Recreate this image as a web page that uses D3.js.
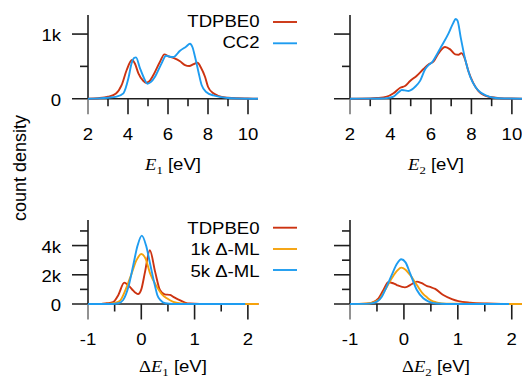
<!DOCTYPE html>
<html><head><meta charset="utf-8">
<script src="https://cdn.jsdelivr.net/npm/d3@7"></script>
<style>body{margin:0;background:#fff}</style>
</head><body><svg id="c" width="522" height="377"></svg>
<script>
// ---------- data ----------
const seriesNamesTop = ["TDPBE0", "CC2"];
const seriesNamesBottom = ["TDPBE0", "1k \u0394-ML", "5k \u0394-ML"];
const eTickLabels = [2, 4, 6, 8, 10];
const eMinorTicks = [3, 5, 7, 9];
const dTickLabels = [-1, 0, 1, 2];
const dMinorTicks = [-0.5, 0.5, 1.5];
const topYTicks = [0, 1000];
const topYTickLabels = ["0", "1k"];
const topYMinor = [500];
const botYTicks = [0, 2000, 4000];
const botYTickLabels = ["0", "2k", "4k"];
const botYMinor = [1000, 3000, 5000];

const e1_tdpbe0 = [[2,0],[2.5,8],[3.0,30],[3.4,80],[3.68,210],[3.93,440],[4.2,598],[4.35,540],[4.52,392],[4.77,273],[4.9,247],[5.05,265],[5.27,366],[5.6,572],[5.82,686],[6.0,660],[6.3,628],[6.6,580],[6.85,520],[7.07,505],[7.25,530],[7.47,556],[7.65,480],[7.85,340],[8.0,185],[8.27,83],[8.5,45],[9.0,15],[9.5,6],[10.0,3],[10.5,0]];
const e1_cc2 = [[2,0],[2.5,5],[3.0,15],[3.43,31],[3.77,83],[4.02,315],[4.18,547],[4.3,630],[4.4,640],[4.6,470],[4.77,340],[4.97,232],[5.15,260],[5.35,340],[5.68,547],[5.9,665],[6.1,650],[6.27,645],[6.6,742],[6.9,805],[7.1,850],[7.22,800],[7.35,650],[7.52,417],[7.68,212],[7.93,99],[8.27,50],[8.6,28],[9.0,10],[9.5,3],[10.5,0]];
const e2_tdpbe0 = [[2,0],[3.0,3],[3.32,10],[3.82,31],[4.15,83],[4.48,170],[4.72,196],[4.97,273],[5.3,356],[5.63,459],[5.88,530],[6.12,572],[6.37,700],[6.7,800],[6.95,763],[7.2,686],[7.36,680],[7.5,705],[7.65,640],[7.86,417],[8.1,238],[8.35,119],[8.6,57],[8.93,26],[9.43,8],[10,2],[10.5,0]];
const e2_cc2 = [[2,0],[3.5,3],[3.9,12],[4.15,31],[4.4,99],[4.56,134],[4.7,128],[4.89,119],[5.05,140],[5.22,185],[5.47,280],[5.72,459],[5.88,520],[6.05,562],[6.25,660],[6.46,779],[6.87,1011],[7.1,1170],[7.22,1232],[7.31,1210],[7.48,934],[7.7,598],[7.94,340],[8.19,185],[8.44,99],[8.68,57],[9.1,15],[9.6,4],[10.5,0]];

const d1_tdpbe0 = [[-1,0],[-0.75,10],[-0.65,50],[-0.53,120],[-0.43,620],[-0.32,1460],[-0.25,1300],[-0.18,1030],[-0.06,680],[0.0,1000],[0.07,2200],[0.16,3680],[0.26,2200],[0.35,960],[0.44,660],[0.54,620],[0.62,450],[0.72,270],[0.82,100],[0.91,30],[1.1,5],[2.2,0]];
const d1_ml1k = [[-1,0],[-0.6,20],[-0.5,80],[-0.4,220],[-0.31,840],[-0.18,2100],[-0.09,3000],[0.0,3420],[0.08,3100],[0.16,2150],[0.29,1190],[0.38,700],[0.48,390],[0.6,150],[0.75,40],[0.9,8],[2.2,0]];
const d1_ml5k = [[-1,0],[-0.55,5],[-0.43,50],[-0.34,270],[-0.24,1190],[-0.15,2670],[-0.07,4000],[0.01,4680],[0.09,4000],[0.17,2670],[0.26,1190],[0.3,620],[0.36,270],[0.45,50],[0.6,5],[1.95,0]];
const d2_tdpbe0 = [[-1,0],[-0.7,20],[-0.6,80],[-0.47,390],[-0.38,960],[-0.29,1490],[-0.2,1420],[-0.13,1300],[0.02,1140],[0.15,1370],[0.24,1530],[0.32,1440],[0.43,1230],[0.5,1150],[0.58,1030],[0.73,620],[0.89,340],[1.01,200],[1.23,90],[1.54,30],[1.8,8],[2.2,0]];
const d2_ml1k = [[-1,0],[-0.75,15],[-0.63,50],[-0.47,270],[-0.35,960],[-0.225,1760],[-0.12,2300],[-0.05,2490],[0.03,2350],[0.115,1990],[0.24,1300],[0.36,680],[0.43,450],[0.5,250],[0.6,110],[0.7,45],[0.85,15],[2.2,0]];
const d2_ml5k = [[-1,0],[-0.7,10],[-0.6,40],[-0.5,160],[-0.41,500],[-0.32,1190],[-0.225,1990],[-0.13,2750],[-0.05,3060],[0.03,2850],[0.115,2100],[0.24,960],[0.36,390],[0.46,160],[0.6,30],[0.8,5],[1.95,0]];

// ---------- style / layout ----------
const RED = "#cc3311", BLUE = "#1e9cf0", ORANGE = "#f5a20c";
const AX = "#1e1e1e";
const FONT = "'Liberation Sans', Arial, sans-serif";
const SERIF = "'Liberation Serif', 'Times New Roman', serif";
const SX = 1.16;
const svg = d3.select("#c");

function txt(x, y, anchor, size) {
  return svg.append("text")
    .attr("transform", `translate(${x},${y}) scale(${SX},1)`)
    .attr("text-anchor", anchor)
    .attr("font-family", FONT)
    .attr("font-size", size || 16)
    .attr("fill", "#000");
}

const panels = [
  {x0:88, x1:258, y0:98.7, y1:15, xd:[2,10.5], yd:[0,1295], xt:eTickLabels, xm:eMinorTicks, yt:topYTicks, ytl:topYTickLabels, ym:topYMinor, labels:true,
   series:[[e1_tdpbe0,RED],[e1_cc2,BLUE]], sub:"1", delta:false},
  {x0:350, x1:522, y0:98.7, y1:15, xd:[2,10.5], yd:[0,1295], xt:eTickLabels, xm:eMinorTicks, yt:topYTicks, ytl:topYTickLabels, ym:topYMinor, labels:false,
   series:[[e2_tdpbe0,RED],[e2_cc2,BLUE]], sub:"2", delta:false},
  {x0:88, x1:258, y0:304, y1:220, xd:[-1,2.19], yd:[0,5750], xt:dTickLabels, xm:dMinorTicks, yt:botYTicks, ytl:botYTickLabels, ym:botYMinor, labels:true,
   series:[[d1_tdpbe0,RED],[d1_ml1k,ORANGE],[d1_ml5k,BLUE]], sub:"1", delta:true},
  {x0:350, x1:522, y0:304, y1:220, xd:[-1,2.19], yd:[0,5750], xt:dTickLabels, xm:dMinorTicks, yt:botYTicks, ytl:botYTickLabels, ym:botYMinor, labels:false,
   series:[[d2_tdpbe0,RED],[d2_ml1k,ORANGE],[d2_ml5k,BLUE]], sub:"2", delta:true}
];

panels.forEach(p => {
  const x = d3.scaleLinear().domain(p.xd).range([p.x0, p.x1]);
  const y = d3.scaleLinear().domain(p.yd).range([p.y0, p.y1]);
  const g = svg.append("g");
  g.append("line").attr("x1", p.x0).attr("x2", p.x0).attr("y1", p.y1).attr("y2", p.y0)
    .attr("stroke", AX).attr("stroke-width", 1.6);
  g.append("line").attr("x1", p.x0 - 16).attr("x2", p.x1).attr("y1", y(0)).attr("y2", y(0))
    .attr("stroke", AX).attr("stroke-width", 1.6);
  p.yt.forEach(v => { if (v !== 0) g.append("line").attr("x1", p.x0 - 16).attr("x2", p.x0).attr("y1", y(v)).attr("y2", y(v)).attr("stroke", AX).attr("stroke-width", 1.6); });
  p.ym.forEach(v => g.append("line").attr("x1", p.x0 - 8).attr("x2", p.x0).attr("y1", y(v)).attr("y2", y(v)).attr("stroke", AX).attr("stroke-width", 1.6));
  p.xt.forEach(v => g.append("line").attr("x1", x(v)).attr("x2", x(v)).attr("y1", p.y0).attr("y2", p.y0 + 15.5).attr("stroke", v === p.xd[0] ? "#777" : AX).attr("stroke-width", 1.6));
  p.xm.forEach(v => g.append("line").attr("x1", x(v)).attr("x2", x(v)).attr("y1", p.y0).attr("y2", p.y0 + 7.5).attr("stroke", AX).attr("stroke-width", 1.6));
  p.xt.forEach(v => txt(x(v), p.y0 + 41.3, "middle").text(String(v)));
  if (p.labels) p.yt.forEach((v, i) => txt(p.x0 - 27, y(v) + 7, "end").text(p.ytl[i]));
  const line = d3.line().x(d => x(d[0])).y(d => y(d[1])).curve(d3.curveMonotoneX);
  p.series.forEach(([data, col]) => {
    g.append("path").datum(data).attr("d", line).attr("fill", "none")
      .attr("stroke", col).attr("stroke-width", 1.9).attr("stroke-linejoin", "round");
  });
  const cx = (p.x0 + p.x1) / 2;
  const t = txt(cx, p.delta ? 371.7 : 170, "middle");
  if (p.delta) t.append("tspan").attr("font-family", SERIF).text("\u0394");
  t.append("tspan").attr("font-family", SERIF).attr("font-style", "italic").text("E");
  t.append("tspan").attr("font-family", SERIF).attr("font-size", 11).attr("dy", 4).text(p.sub);
  t.append("tspan").attr("dy", -4).text(" [eV]");
});

// y label
svg.append("text").attr("transform", "translate(26,168) rotate(-90)")
  .attr("text-anchor", "middle").attr("font-family", FONT).attr("font-size", 18)
  .attr("fill", "#000").text("count density");

// legends
const legTop = [[seriesNamesTop[0], RED, 27.3, 22], [seriesNamesTop[1], BLUE, 48.3, 43.3]];
const legBot = [[seriesNamesBottom[0], RED, 233.5, 227.7], [seriesNamesBottom[1], ORANGE, 255, 249], [seriesNamesBottom[2], BLUE, 276.5, 270]];
[...legTop, ...legBot].forEach(([name, col, by, ly]) => {
  txt(259.5, by, "end").text(name);
  svg.append("line").attr("x1", 273).attr("x2", 297).attr("y1", ly).attr("y2", ly)
    .attr("stroke", col).attr("stroke-width", 1.9);
});
</script></body></html>
